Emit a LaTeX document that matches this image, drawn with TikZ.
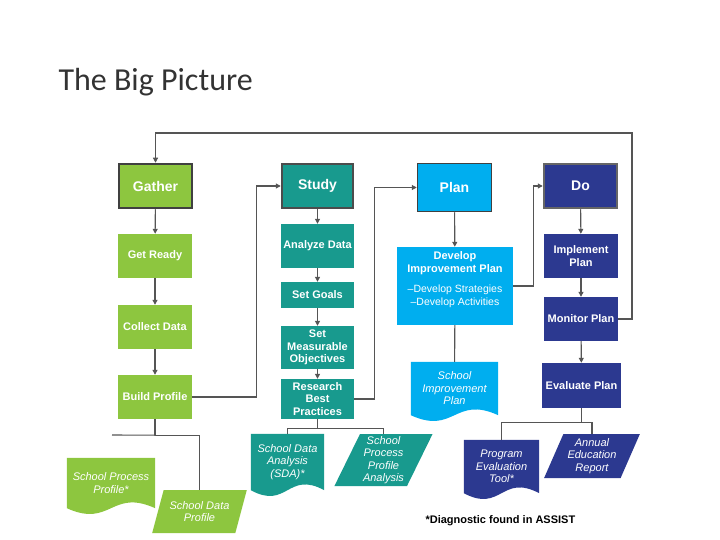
\documentclass[tikz,border=0pt]{standalone}
\usepackage{fontspec}
\setmainfont{Liberation Sans}
\newfontfamily\titlefont{Carlito}
\usetikzlibrary{arrows.meta,calc,shapes.geometric,backgrounds}
\definecolor{gathergreen}{RGB}{141,198,63}
\definecolor{studyteal}{RGB}{24,154,142}
\definecolor{planblue}{RGB}{0,174,239}
\definecolor{donavy}{RGB}{44,57,144}
\definecolor{linegray}{RGB}{85,85,85}

\begin{document}
\begin{tikzpicture}[x=1pt,y=-1pt,
    box/.style={rectangle,inner sep=0pt,align=center,text=white,font=\bfseries\fontsize{11}{12.5}\selectfont},
    head/.style={box,font=\bfseries\fontsize{14}{16}\selectfont,line width=2.5pt},
    doc/.style={inner sep=0pt,align=center,text=white,font=\itshape\fontsize{11}{12.5}\selectfont},
    para/.style={doc,trapezium,trapezium stretches=true,trapezium left angle=65,trapezium right angle=115},
    conn/.style={draw=linegray,line width=1.1pt},
    arr/.style={conn,-{Triangle[length=5pt,width=5pt]}}]
    \useasboundingbox (0,0) rectangle (720,540);

    \node[anchor=base west,font=\titlefont\fontsize{32}{36}\selectfont,text=black!80] (title) at (55,91) {The Big Picture};

    % gather column
    \node[head,fill=gathergreen,draw=black!75,minimum width=73pt,minimum height=44pt] (gather) at (155.5,186) {Gather};
    \node[box,fill=gathergreen,minimum width=74pt,minimum height=44pt] (getready) at (155,256) {Get Ready};
    \node[box,fill=gathergreen,minimum width=74pt,minimum height=44pt] (collect) at (155,327) {Collect Data};
    \node[box,fill=gathergreen,minimum width=74pt,minimum height=44pt] (build) at (155,397) {Build Profile};

    % study column
    \node[head,fill=studyteal,draw=black!70,minimum width=71pt,minimum height=44pt] (study) at (317.5,186) {Study};
    \node[box,fill=studyteal,minimum width=73pt,minimum height=44pt] (analyze) at (317.5,246) {Analyze Data};
    \node[box,fill=studyteal,minimum width=73pt,minimum height=26pt] (setgoals) at (317.5,295) {Set Goals};
    \node[box,fill=studyteal,minimum width=73pt,minimum height=43pt] (setmeas) at (317.5,347.5) {Set\\Measurable\\Objectives};
    \node[box,fill=studyteal,minimum width=73pt,minimum height=40pt] (research) at (317.5,399) {Research\\Best\\Practices};

    % plan column
    \node[head,fill=planblue,draw=black!75,line width=1.5pt,minimum width=74pt,minimum height=48pt] (plan) at (454.5,187.5) {Plan};
    \node[box,fill=planblue,minimum width=116pt,minimum height=78pt] (develop) at (455,286)
        {Develop\\Improvement Plan\\[8pt]{\mdseries\fontsize{10.5}{12}\selectfont --Develop Strategies}\\{\mdseries\fontsize{10.5}{12}\selectfont --Develop Activities}\\[2pt]\mbox{}};

    % do column
    \node[head,fill=donavy,draw=black!60,minimum width=73pt,minimum height=44pt] (do) at (580.5,186) {Do};
    \node[box,fill=donavy,minimum width=74pt,minimum height=44pt] (implement) at (581,256) {Implement\\Plan};
    \node[box,fill=donavy,minimum width=74pt,minimum height=44pt] (monitor) at (581,319) {Monitor Plan};
    \node[box,fill=donavy,minimum width=79pt,minimum height=45pt] (evaluate) at (581.5,385.5) {Evaluate Plan};

    % documents
    \node[doc,minimum width=88pt,minimum height=50pt] (spp) at (111,483) {School Process\\Profile*};
    \node[doc,minimum width=73pt,minimum height=56pt] (sda) at (287.5,462) {School Data\\Analysis\\(SDA)*};
    \node[doc,minimum width=87pt,minimum height=53pt] (sip) at (454.5,388.5) {School\\Improvement\\Plan};
    \node[doc,minimum width=75pt,minimum height=53pt] (pet) at (501.5,466.5) {Program\\Evaluation\\Tool*};
    \begin{scope}[on background layer]
        \foreach \d/\c in {spp/gathergreen,sda/studyteal,sip/planblue,pet/donavy}{
            \fill[\c] (\d.north west) -- (\d.north east) -- (\d.south east)
                .. controls ($(\d.south)+(0,-20)$) and ($(\d.south)+(0,20)$) .. (\d.south west) -- cycle;
        }
    \end{scope}

    \node[para,fill=gathergreen,minimum width=95pt,minimum height=43pt] (sdp) at (199.5,511.5) {School Data\\Profile};
    \node[para,fill=studyteal,minimum width=99pt,minimum height=52pt] (sppa) at (383.5,460) {School\\Process\\Profile\\Analysis};
    \node[para,fill=donavy,minimum width=96pt,minimum height=44pt] (aer) at (592,456) {Annual\\Education\\Report};

    \node[anchor=base west,font=\bfseries\fontsize{11}{12}\selectfont] (note) at (422,523) {*Diagnostic found in ASSIST};

    % arrows down the columns
    \draw[arr] (gather) -- (getready);
    \draw[arr] (getready) -- (collect);
    \draw[arr] (collect) -- (build);
    \draw[arr] (study) -- (analyze);
    \draw[arr] (analyze) -- (setgoals);
    \draw[arr] (setgoals) -- (setmeas);
    \draw[arr] (setmeas) -- (research);
    \draw[arr] (plan) -- (develop);
    \draw[arr] (do) -- (implement);
    \draw[arr] (implement) -- (monitor);
    \draw[arr] (monitor) -- (evaluate);
    \draw[conn] (develop) -- (sip);

    % across to the next step
    \draw[arr] (build.east) -- ++(64,0) |- (study.west);
    \draw[arr] (research.east) -- ++(20,0) |- (plan.west);
    \draw[arr] (develop.east) -- ++(20,0) |- (do.west);
    \coordinate (loop) at (632,133);
    \draw[arr] (monitor.east) -| (loop) -| (gather.north);

    % outputs
    \coordinate (bpleft) at (112,435);
    \draw[conn] (build.south) -- ++(0,16) coordinate (bpfork);
    \draw[conn] (bpfork) -- (bpleft);
    \draw[conn] (bpfork) -| (sdp.north);
    \draw[conn] (research.south) -- ++(0,9) coordinate (rbfork);
    \draw[conn] (rbfork) -| (sda.north);
    \draw[conn] (rbfork) -| (sppa.north);
    \draw[conn] (evaluate.south) -- ++(0,14) coordinate (evfork);
    \draw[conn] (evfork) -| (pet.north);
    \draw[conn] (evfork) -| (aer.north);
\end{tikzpicture}
\end{document}
